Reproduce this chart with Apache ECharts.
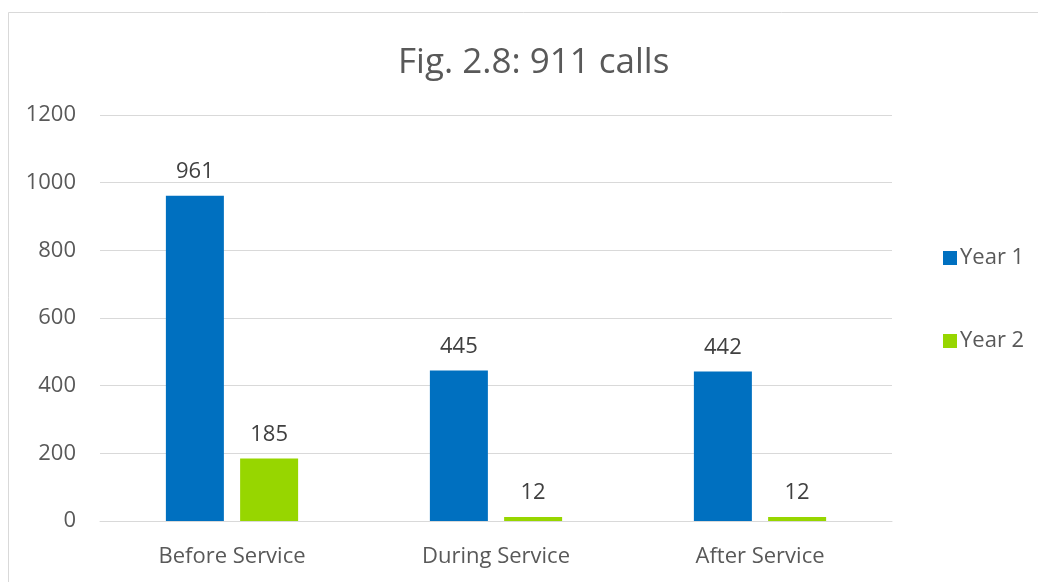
<!DOCTYPE html>
<html>
<head>
<meta charset="utf-8">
<script src="https://cdn.jsdelivr.net/npm/echarts@6/dist/echarts.min.js"></script>
<style>
html,body{margin:0;padding:0;background:#fff;}
#main{width:1038px;height:582px;}
</style>
</head>
<body>
<div id="main"></div>
<script>
// 数据
var categories = ['Before Service', 'During Service', 'After Service']
var year1 = [961, 445, 442]
var year2 = [185, 12, 12]
var seriesNames = ['Year 1', 'Year 2']

var myChart = echarts.init(document.getElementById('main'));
var font = '"Open Sans", "Noto Sans", sans-serif'
var labelStyle = {
    show: true,
    position: 'top',
    distance: 13,
    color: '#404040',
    fontSize: 22,
    fontFamily: font
}
var option = {
    backgroundColor: '#fff',
    color: ['#0070C0', '#97D600'],
    title: {
        text: 'Fig. 2.8: 911 calls',
        left: 393,
        top: 41,
        textStyle: {
            color: '#595959',
            fontSize: 35,
            fontWeight: 'normal',
            fontFamily: font
        }
    },
    graphic: [{
        type: 'rect',
        shape: {x: 8.5, y: 12.5, width: 1100, height: 700},
        style: {fill: 'none', stroke: '#d9d9d9', lineWidth: 1},
        silent: true
    }],
    legend: {
        orient: 'vertical',
        left: 938,
        top: 242,
        itemWidth: 14,
        itemHeight: 14,
        itemGap: 61,
        icon: 'rect',
        data: seriesNames,
        textStyle: {
            color: '#595959',
            fontSize: 22,
            fontFamily: font,
            padding: [0, 0, 0, -2]
        }
    },
    grid: {
        left: 100,
        right: 146,
        top: 115,
        bottom: 61
    },
    xAxis: [{
        type: 'category',
        data: categories,
        axisTick: {show: false},
        axisLine: {
            show: true,
            lineStyle: {color: '#d9d9d9', width: 1}
        },
        axisLabel: {
            margin: 25,
            color: '#595959',
            fontSize: 22,
            fontFamily: font
        }
    }],
    yAxis: [{
        type: 'value',
        min: 0,
        max: 1200,
        interval: 200,
        axisLine: {show: false},
        axisTick: {show: false},
        splitLine: {
            show: true,
            lineStyle: {color: '#d9d9d9', width: 1}
        },
        axisLabel: {
            margin: 24,
            color: '#595959',
            fontSize: 22,
            fontFamily: font,
            formatter: function (v) { return String(v) }
        }
    }],
    series: [
        {
            name: seriesNames[0],
            type: 'bar',
            barWidth: 58,
            barGap: '28%',
            data: year1,
            label: labelStyle
        },
        {
            name: seriesNames[1],
            type: 'bar',
            barWidth: 58,
            barGap: '28%',
            data: year2,
            label: labelStyle
        }
    ]
};
myChart.setOption(option);
</script>
</body>
</html>
